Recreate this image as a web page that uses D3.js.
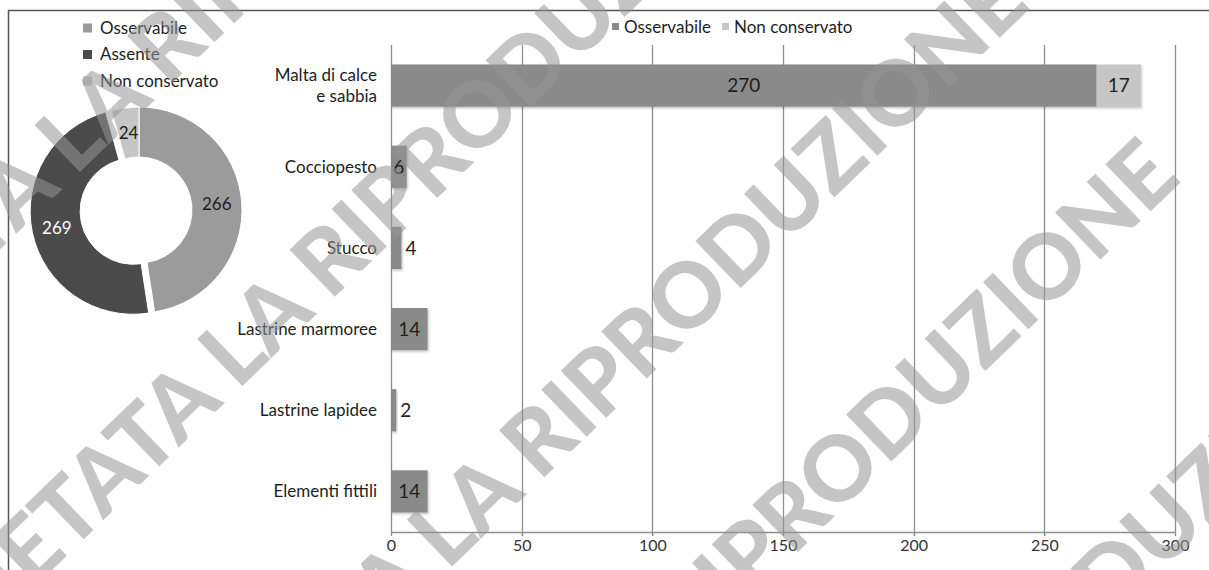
<!DOCTYPE html>
<html>
<head>
<meta charset="utf-8">
<script src="https://cdn.jsdelivr.net/npm/d3@7"></script>
<style>
  html, body { margin: 0; padding: 0; background: #fff; }
  svg { display: block; }
  text { font-family: Lato, "Open Sans", sans-serif; }
</style>
</head>
<body>
<svg id="chart" width="1209" height="570"></svg>
<script>
// ---- Data ----
const donutLabels = ["Osservabile", "Assente", "Non conservato"];
const donutValues = [266, 269, 24];

const categories = ["Malta di calce\ne sabbia", "Cocciopesto", "Stucco", "Lastrine marmoree", "Lastrine lapidee", "Elementi fittili"];
const seriesNames = ["Osservabile", "Non conservato"];
const osservabileValues = [270, 6, 4, 14, 2, 14];
const nonConservatoValues = [17, 0, 0, 0, 0, 0];
const xTickValues = [0, 50, 100, 150, 200, 250, 300];

const watermarkText = "VIETATA LA RIPRODUZIONE";

// ---- Styles ----
const donutColors = ["#9b9b9b", "#4b4b4b", "#c6c6c6"];
const barColors = ["#8a8a8a", "#c6c6c6"];
const textColor = "#1e1e1e";
const gridColor = "#8e8e8e";

const svg = d3.select("#chart");

const defs = svg.append("defs");
const shadow = defs.append("filter").attr("id", "shadow").attr("x", "-20%").attr("y", "-20%").attr("width", "140%").attr("height", "150%");
shadow.append("feDropShadow").attr("dx", 1).attr("dy", 1.5).attr("stdDeviation", 1).attr("flood-color", "#000").attr("flood-opacity", 0.25);

// frame
svg.append("line").attr("x1", 8).attr("x2", 1209).attr("y1", 10.5).attr("y2", 10.5).attr("stroke", "#555").attr("stroke-width", 1.5);
svg.append("line").attr("x1", 8.5).attr("x2", 8.5).attr("y1", 10).attr("y2", 570).attr("stroke", "#555").attr("stroke-width", 1.5);

// ---- Donut ----
const donutCx = 139, donutCy = 210, rOuter = 103, rInner = 53;
const pie = d3.pie().sort(null).value(d => d)(donutValues);
const arc = d3.arc().innerRadius(rInner).outerRadius(rOuter);
const gDonut = svg.append("g").attr("transform", `translate(${donutCx},${donutCy})`);
const explode = [0, 6, 0];
const slices = gDonut.selectAll("g.slice").data(pie).join("g").attr("class", "slice")
  .attr("transform", (d, i) => {
    const a = (d.startAngle + d.endAngle) / 2;
    return `translate(${Math.sin(a) * explode[i]},${-Math.cos(a) * explode[i]})`;
  });
slices.append("path").attr("d", arc).attr("fill", (d, i) => donutColors[i]).attr("stroke", "#fff").attr("stroke-width", 1);
slices.append("text")
  .attr("transform", d => `translate(${arc.centroid(d)})`)
  .attr("text-anchor", "middle").attr("dy", "0.36em")
  .attr("font-size", 17)
  .attr("fill", (d, i) => i === 1 ? "#fff" : textColor)
  .text(d => d.data);

// donut legend
const gDL = svg.append("g");
donutLabels.forEach((name, i) => {
  const y = 28 + i * 26.5;
  gDL.append("rect").attr("x", 83).attr("y", y - 4.5).attr("width", 9).attr("height", 9).attr("fill", donutColors[i]);
  gDL.append("text").attr("x", 100).attr("y", y).attr("dy", "0.35em").attr("font-size", 17).attr("fill", textColor).text(name);
});

// ---- Bar chart ----
const x = d3.scaleLinear().domain([0, 300]).range([391, 1175]);
const y = d3.scaleBand().domain(categories).range([45, 532]).paddingInner(0.48).paddingOuter(0.24);

// gridlines
const gGrid = svg.append("g");
gGrid.selectAll("line").data(xTickValues).join("line")
  .attr("x1", d => Math.round(x(d)) + 0.5).attr("x2", d => Math.round(x(d)) + 0.5)
  .attr("y1", 45).attr("y2", 536)
  .attr("stroke", gridColor).attr("stroke-width", 1.3);

// x axis
const xAxis = d3.axisBottom(x).tickValues(xTickValues).tickSize(4).tickSizeOuter(0);
const gx = svg.append("g").attr("transform", "translate(0,532)").call(xAxis);
gx.select(".domain").attr("stroke", gridColor).attr("stroke-width", 1.5);
gx.selectAll(".tick line").attr("stroke", gridColor);
gx.selectAll(".tick text").attr("font-size", 16).attr("fill", "#333").attr("font-family", "Lato, sans-serif").attr("dy", "0.75em");

// category labels
const gCat = svg.append("g");
categories.forEach(c => {
  const lines = c.split("\n");
  const cy = y(c) + y.bandwidth() / 2;
  const t = gCat.append("text").attr("text-anchor", "end").attr("font-size", 17).attr("fill", textColor);
  lines.forEach((ln, k) => {
    t.append("tspan").attr("x", 377).attr("y", cy + (k - (lines.length - 1) / 2) * 21).attr("dy", "0.35em").text(ln);
  });
});

// stacked bars
const stackData = categories.map((c, i) => ({ cat: c, Osservabile: osservabileValues[i], "Non conservato": nonConservatoValues[i] }));
const stacked = d3.stack().keys(seriesNames)(stackData);
const gBars = svg.append("g");
stacked.forEach((series, si) => {
  gBars.selectAll(null).data(series.filter(d => d[1] - d[0] > 0)).join("rect")
    .attr("x", d => x(d[0]))
    .attr("y", d => y(d.data.cat))
    .attr("width", d => x(d[1]) - x(d[0]))
    .attr("height", y.bandwidth())
    .attr("fill", barColors[si])
    .attr("filter", "url(#shadow)");
});
// bar labels
stacked.forEach((series, si) => {
  series.forEach(d => {
    const v = d[1] - d[0];
    if (v <= 0) return;
    const w = x(d[1]) - x(d[0]);
    const cy = y(d.data.cat) + y.bandwidth() / 2;
    const inside = w >= 14;
    gBars.append("text")
      .attr("x", inside ? (x(d[0]) + x(d[1])) / 2 : x(d[1]) + 4)
      .attr("y", cy).attr("dy", "0.36em")
      .attr("text-anchor", inside ? "middle" : "start")
      .attr("font-size", 19).attr("fill", textColor)
      .text(v);
  });
});

// bar legend
const gBL = svg.append("g");
let lx = 612;
seriesNames.forEach((name, i) => {
  gBL.append("rect").attr("x", lx).attr("y", 27 - 4).attr("width", 7).attr("height", 7).attr("fill", barColors[i]);
  const t = gBL.append("text").attr("x", lx + 12).attr("y", 27).attr("dy", "0.35em").attr("font-size", 17).attr("fill", textColor).text(name);
  lx += 12 + t.node().getComputedTextLength() + 11;
});

// ---- Watermark overlay ----
const wmAngle = -44;
const wmLines = [
  { idx: 9, px: 108, py: 100 },
  { idx: 2, px: 28, py: 548 },
  { idx: 14, px: 640, py: 340 },
  { idx: 13, px: 750, py: 553 },
  { idx: 17, px: 1162, py: 526 }
];
const gWM = svg.append("g").attr("pointer-events", "none");
const rad = wmAngle * Math.PI / 180;
wmLines.forEach(l => {
  const t = gWM.append("text")
    .attr("font-size", 90).attr("font-weight", 900)
    .attr("fill", "#969696").attr("fill-opacity", 0.55)
    .attr("dy", "0.36em")
    .text(watermarkText);
  const node = t.node();
  const pre = node.getSubStringLength(0, l.idx) + node.getSubStringLength(l.idx, 1) / 2;
  const sx = l.px - Math.cos(rad) * pre;
  const sy = l.py - Math.sin(rad) * pre;
  t.attr("transform", `translate(${sx},${sy}) rotate(${wmAngle})`);
});
</script>
</body>
</html>
